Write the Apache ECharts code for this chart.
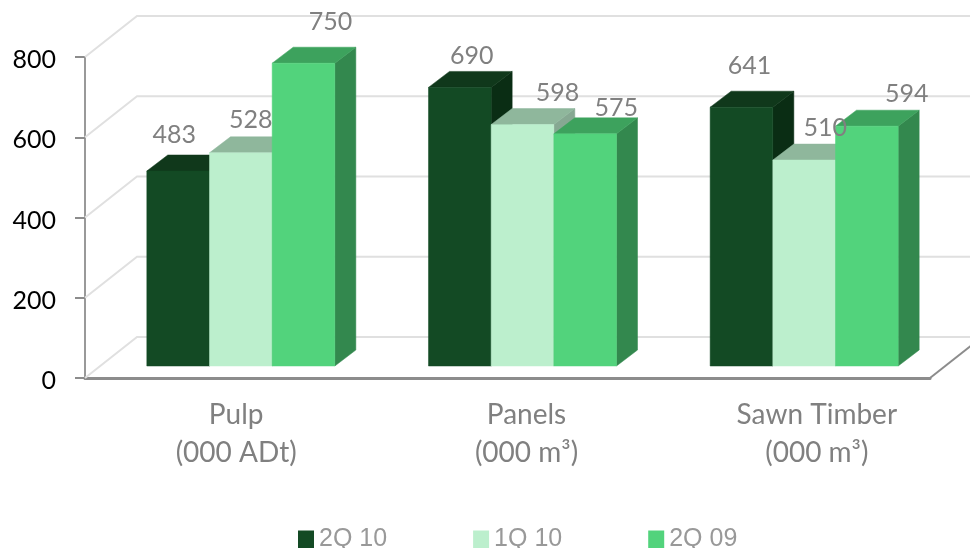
<!DOCTYPE html>
<html>
<head>
<meta charset="utf-8">
<style>html,body{margin:0;padding:0;background:#fff}#chart{width:970px;height:548px}</style>
<script src="https://cdn.jsdelivr.net/npm/echarts@6/dist/echarts.min.js"></script>
</head>
<body>
<div id="chart"></div>
<script>
// Production volumes by product and quarter
const categories = ['Pulp\n(000 ADt)', 'Panels\n(000 m³)', 'Sawn Timber\n(000 m³)'];
const seriesNames = ['2Q 10', '1Q 10', '2Q 09'];
const q2y10 = [483, 690, 641];
const q1y10 = [528, 598, 510];
const q2y09 = [750, 575, 594];
const yTicks = [0, 200, 400, 600, 800];

// Face colours of each box: front, top, side
const faces = [
  { front: '#134a24', top: '#10381b', side: '#0a2d14' },
  { front: '#bcefcd', top: '#8fb79c', side: '#86a892' },
  { front: '#52d37c', top: '#3da25d', side: '#33884e' }
];
// Pixel projection of the chart's depth
const wallDepth = [52, -41];
const barDepth = [21, -16];
const barWidthRatio = 0.2225;
// Hand-placed value labels, offset from the top centre of each front face
const labelNudges = [
  [[-4, -36], [12, -31], [8, -41]],
  [[10, -33], [35, -32], [21, -32]],
  [[27, -41], [31, -26], [40, -32]]
];
const labelFont = 'Lato, "Open Sans", sans-serif';
const valueSets = [q2y10, q1y10, q2y09];

function poly(points, fill) {
  return { type: 'polygon', shape: { points }, style: { fill, stroke: fill, lineWidth: 0.5 } };
}

function renderBox(seriesIndex) {
  return function (params, api) {
    const bandWidth = api.size([1, 0])[0];
    const w = bandWidth * barWidthRatio;
    const top = api.coord([api.value(0), api.value(1)]);
    const base = api.coord([api.value(0), 0]);
    const x0 = top[0] + (seriesIndex - 1.5) * w;
    const x1 = x0 + w;
    const [dx, dy] = barDepth;
    const c = faces[seriesIndex];
    return {
      type: 'group',
      children: [
        poly([[x1, top[1]], [x1 + dx, top[1] + dy], [x1 + dx, base[1] + dy], [x1, base[1]]], c.side),
        poly([[x0, top[1]], [x0 + dx, top[1] + dy], [x1 + dx, top[1] + dy], [x1, top[1]]], c.top),
        poly([[x0, top[1]], [x1, top[1]], [x1, base[1]], [x0, base[1]]], c.front)
      ]
    };
  };
}

function renderWall(params, api) {
  const cs = params.coordSys;
  const y = api.coord([0, api.value(0)])[1];
  const left = cs.x;
  const right = cs.x + cs.width;
  const [dx, dy] = wallDepth;
  const lineStyle = { stroke: '#e0e0e0', lineWidth: 2, fill: null };
  const children = [
    { type: 'polyline', shape: { points: [[left, y], [left + dx, y + dy], [right + dx, y + dy]] }, style: lineStyle }
  ];
  if (api.value(0) === 0) {
    children.push({
      type: 'line',
      shape: { x1: right, y1: y, x2: right + dx, y2: y + dy },
      style: { stroke: '#8c8c8c', lineWidth: 2 }
    });
  }
  return { type: 'group', children };
}

function renderLabel(params, api) {
  const s = api.value(2);
  const cat = api.value(0);
  const w = api.size([1, 0])[0] * barWidthRatio;
  const top = api.coord([cat, api.value(1)]);
  const nudge = labelNudges[s][cat];
  return {
    type: 'text',
    style: {
      text: String(api.value(1)),
      x: top[0] + (s - 1) * w + nudge[0],
      y: top[1] + nudge[1],
      align: 'center',
      verticalAlign: 'middle',
      fill: '#808080',
      font: '25px ' + labelFont
    }
  };
}

const labelData = [];
valueSets.forEach((vals, s) => vals.forEach((v, c) => labelData.push([c, v, s])));

const chart = echarts.init(document.getElementById('chart'), null, { renderer: 'canvas' });
chart.setOption({
  animation: false,
  backgroundColor: '#ffffff',
  legend: {
    data: seriesNames,
    left: 293,
    top: 522,
    itemWidth: 16,
    itemHeight: 18,
    itemGap: 86,
    icon: 'rect',
    textStyle: { color: '#999999', fontFamily: 'Liberation Sans, Arial, sans-serif', fontSize: 25 }
  },
  grid: [
    { left: 85, right: 40, top: 57, bottom: 170 },
    { left: 100, right: 25, top: 43, bottom: 182 },
    { left: 91, right: 8, top: 57, bottom: 170 }
  ],
  xAxis: [
    {
      type: 'category',
      data: categories,
      gridIndex: 0,
      axisLine: { lineStyle: { color: '#8c8c8c', width: 3 } },
      axisTick: { show: false },
      axisLabel: { show: false }
    },
    { type: 'category', data: categories, gridIndex: 1, show: false },
    {
      type: 'category',
      data: categories,
      gridIndex: 2,
      axisLine: { show: false },
      axisTick: { show: false },
      axisLabel: { color: '#808080', fontFamily: labelFont, fontSize: 28, lineHeight: 38, margin: 18 }
    }
  ],
  yAxis: [
    {
      type: 'value',
      min: 0,
      max: 800,
      interval: 200,
      gridIndex: 0,
      axisLine: { show: true, lineStyle: { color: '#999999', width: 2 } },
      axisTick: { show: true, length: 10, lineStyle: { color: '#8c8c8c', width: 2 } },
      splitLine: { show: false },
      axisLabel: { color: '#000000', fontFamily: labelFont, fontSize: 25, margin: 29, verticalAlign: 'top', lineHeight: 6 }
    },
    { type: 'value', min: 0, max: 800, interval: 200, gridIndex: 1, show: false },
    { type: 'value', min: 0, max: 800, interval: 200, gridIndex: 2, show: false }
  ],
  series: [
    {
      type: 'custom',
      xAxisIndex: 0,
      yAxisIndex: 0,
      z: 1,
      silent: true,
      renderItem: renderWall,
      encode: { y: 0 },
      data: yTicks.map(t => [t])
    },
    ...seriesNames.map((name, i) => ({
      type: 'custom',
      name,
      xAxisIndex: 1,
      yAxisIndex: 1,
      z: 2 + i,
      itemStyle: { color: faces[i].front },
      renderItem: renderBox(i),
      encode: { x: 0, y: 1 },
      data: valueSets[i].map((v, c) => [c, v])
    })),
    {
      type: 'custom',
      xAxisIndex: 1,
      yAxisIndex: 1,
      z: 6,
      silent: true,
      renderItem: renderLabel,
      encode: { x: 0, y: 1 },
      data: labelData
    }
  ]
});
</script>
</body>
</html>
